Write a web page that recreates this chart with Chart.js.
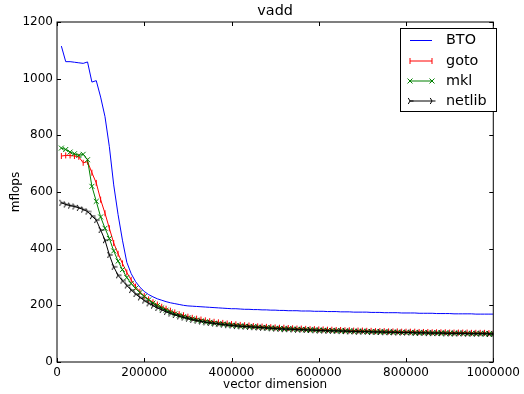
<!DOCTYPE html>
<html>
<head>
<meta charset="utf-8">
<title>vadd</title>
<script src="https://cdn.jsdelivr.net/npm/chart.js@4.4.0/dist/chart.umd.min.js"></script>
<style>
    html, body { margin: 0; padding: 0; background: #fff; }
    #wrap { width: 524px; height: 394px; }
</style>
</head>
<body>
<div id="wrap"><canvas id="vaddChart" width="524" height="394"></canvas></div>
<script>
// Vector dimensions (x values)
const dims = [
    10000, 20000, 30000, 40000, 50000, 60000, 70000, 80000, 90000, 100000,
    110000, 120000, 130000, 140000, 150000, 160000, 170000, 180000, 190000, 200000,
    210000, 220000, 230000, 240000, 250000, 260000, 270000, 280000, 290000, 300000,
    310000, 320000, 330000, 340000, 350000, 360000, 370000, 380000, 390000, 400000,
    410000, 420000, 430000, 440000, 450000, 460000, 470000, 480000, 490000, 500000,
    510000, 520000, 530000, 540000, 550000, 560000, 570000, 580000, 590000, 600000,
    610000, 620000, 630000, 640000, 650000, 660000, 670000, 680000, 690000, 700000,
    710000, 720000, 730000, 740000, 750000, 760000, 770000, 780000, 790000, 800000,
    810000, 820000, 830000, 840000, 850000, 860000, 870000, 880000, 890000, 900000,
    910000, 920000, 930000, 940000, 950000, 960000, 970000, 980000, 990000, 1000000
];

// mflops per library
const bto = [
    1115, 1060, 1060, 1058, 1056, 1054, 1059, 988, 993, 935,
    866, 760, 625, 520, 430, 352, 312, 284, 264, 249,
    238, 230, 223, 218, 213, 209, 206, 203, 200, 198,
    197, 196, 195, 194, 193, 192, 191, 190, 189, 188,
    188, 187, 186, 186, 185, 185, 184, 184, 183, 183,
    182, 182, 181, 181, 181, 180, 180, 180, 179, 179,
    179, 178, 178, 178, 177, 177, 177, 176, 176, 176,
    176, 175, 175, 175, 174, 174, 174, 174, 173, 173,
    173, 173, 172, 172, 172, 172, 171, 171, 171, 171,
    170, 170, 170, 170, 170, 169, 169, 169, 169, 169
];
const gotoVals = [
    727, 729, 729, 727, 724, 703, 707, 668, 632, 573,
    525, 472, 420, 382, 348, 316, 290, 266, 248, 233,
    221, 211, 203, 195, 188, 181, 175, 169, 165, 160,
    156, 153, 150, 147, 144, 142, 140, 138, 136, 134,
    133, 131, 130, 129, 127, 126, 125, 124, 123, 122,
    121, 121, 120, 119, 118, 118, 117, 116, 116, 115,
    115, 114, 114, 113, 113, 112, 112, 111, 111, 111,
    110, 110, 109, 109, 109, 108, 108, 108, 107, 107,
    107, 107, 106, 106, 106, 105, 105, 105, 105, 104,
    104, 104, 104, 104, 103, 103, 103, 103, 102, 102
];
const mkl = [
    755, 750, 741, 735, 729, 733, 714, 620, 567, 512,
    472, 436, 392, 356, 326, 298, 277, 260, 245, 231,
    219, 208, 199, 191, 183, 176, 170, 165, 160, 156,
    152, 148, 145, 142, 140, 137, 135, 134, 132, 130,
    129, 127, 126, 125, 124, 123, 122, 121, 120, 119,
    118, 117, 117, 116, 115, 115, 114, 113, 113, 112,
    112, 111, 111, 110, 110, 109, 109, 108, 108, 108,
    107, 107, 106, 106, 106, 105, 105, 105, 104, 104,
    104, 103, 103, 103, 103, 102, 102, 102, 102, 101,
    101, 101, 101, 100, 100, 100, 100, 100, 99, 99
];
const netlib = [
    562, 556, 552, 549, 544, 538, 531, 515, 501, 466,
    430, 378, 336, 306, 287, 270, 254, 240, 228, 217,
    207, 199, 191, 184, 177, 171, 166, 161, 157, 153,
    149, 146, 143, 140, 138, 136, 134, 132, 130, 129,
    127, 126, 125, 124, 123, 122, 121, 120, 119, 118,
    117, 116, 116, 115, 114, 114, 113, 113, 112, 111,
    111, 110, 110, 110, 109, 109, 108, 108, 107, 107,
    107, 106, 106, 106, 105, 105, 105, 104, 104, 104,
    104, 103, 103, 103, 102, 102, 102, 102, 101, 101,
    101, 101, 101, 100, 100, 100, 100, 100, 99, 99
];

// Axis ticks
const xTicks = [0, 200000, 400000, 600000, 800000, 1000000];
const yTicks = [0, 200, 400, 600, 800, 1000, 1200];

const FONT = "'DejaVu Sans', 'Liberation Sans', sans-serif";

/**
 * Build a small "tri_right" marker image (three spokes, one pointing right)
 */
function makeTriRight(size, color) {
    const c = document.createElement('canvas');
    c.width = size;
    c.height = size;
    const g = c.getContext('2d');
    const m = size / 2;
    const r = size / 2 - 0.5;
    g.strokeStyle = color;
    g.lineWidth = 1;
    g.beginPath();
    [0, 120, 240].forEach(a => {
        const rad = a * Math.PI / 180;
        g.moveTo(m, m);
        g.lineTo(m + r * Math.cos(rad), m + r * Math.sin(rad));
    });
    g.stroke();
    return c;
}

const triRight = makeTriRight(8, '#000000');

const toPoints = vals => vals.map((v, i) => ({ x: dims[i], y: v }));

// Series definitions (also used for the legend)
const series = [
    { label: 'BTO', data: bto, color: '#0000ff', style: false, radius: 0, rotation: 0 },
    { label: 'goto', data: gotoVals, color: '#ff0000', style: 'line', radius: 3, rotation: 90 },
    { label: 'mkl', data: mkl, color: '#008000', style: 'crossRot', radius: 3.5, rotation: 0 },
    { label: 'netlib', data: netlib, color: '#000000', style: triRight, radius: 4, rotation: 0 }
];

// Frame, inward ticks, title and legend drawn on top of the plot
const decorPlugin = {
    id: 'decor',
    afterDraw(chart) {
        const { ctx, chartArea: a, scales: { x, y } } = chart;
        ctx.save();
        ctx.strokeStyle = '#000';
        ctx.lineWidth = 1;

        // Inward tick marks on all four sides
        ctx.beginPath();
        xTicks.forEach(v => {
            const px = Math.round(x.getPixelForValue(v)) + 0.5;
            ctx.moveTo(px, a.bottom); ctx.lineTo(px, a.bottom - 4);
            ctx.moveTo(px, a.top); ctx.lineTo(px, a.top + 4);
        });
        yTicks.forEach(v => {
            const py = Math.round(y.getPixelForValue(v)) + 0.5;
            ctx.moveTo(a.left, py); ctx.lineTo(a.left + 4, py);
            ctx.moveTo(a.right, py); ctx.lineTo(a.right - 4, py);
        });
        ctx.stroke();

        // Axes frame
        ctx.strokeRect(a.left, a.top, a.right - a.left, a.bottom - a.top);

        // Title
        ctx.fillStyle = '#000';
        ctx.font = '14.4px ' + FONT;
        ctx.textAlign = 'center';
        ctx.textBaseline = 'alphabetic';
        ctx.fillText('vadd', (a.left + a.right) / 2, 15);

        // Legend box
        const bx = 400.5, by = 28.5, bw = 96, bh = 83;
        ctx.fillStyle = '#fff';
        ctx.fillRect(bx, by, bw, bh);
        ctx.strokeRect(bx, by, bw, bh);

        const rows = [40.5, 61, 81, 101];
        ctx.font = '14.4px ' + FONT;
        ctx.textAlign = 'left';
        ctx.textBaseline = 'middle';
        series.forEach((s, i) => {
            const ry = rows[i];
            ctx.strokeStyle = s.color;
            ctx.lineWidth = 1;
            ctx.beginPath();
            ctx.moveTo(410, ry);
            ctx.lineTo(432, ry);
            ctx.stroke();
            if (s.style) {
                [410, 432].forEach(px => {
                    Chart.helpers.drawPoint(ctx, {
                        pointStyle: s.style,
                        rotation: s.rotation,
                        radius: s.radius,
                        borderWidth: 1
                    }, px, ry);
                });
            }
            ctx.fillStyle = '#000';
            ctx.fillText(s.label, 446, ry);
        });
        ctx.restore();
    }
};

const datasets = series.map((s, i) => ({
    label: s.label,
    data: toPoints(s.data),
    borderColor: s.color,
    backgroundColor: s.color,
    borderWidth: 1,
    pointStyle: s.style,
    pointRadius: s.radius,
    pointRotation: s.rotation,
    pointBorderColor: s.color,
    pointBorderWidth: 1,
    pointBackgroundColor: 'rgba(0,0,0,0)',
    tension: 0,
    fill: false,
    order: series.length - 1 - i
}));

const tickFont = { family: FONT, size: 12 };

new Chart(document.getElementById('vaddChart'), {
    type: 'line',
    data: { datasets: datasets },
    plugins: [decorPlugin],
    options: {
        responsive: false,
        devicePixelRatio: 1,
        animation: false,
        events: [],
        layout: { padding: { left: 0, right: 27, top: 22, bottom: 0 } },
        plugins: {
            legend: { display: false },
            tooltip: { enabled: false },
            title: { display: false }
        },
        scales: {
            x: {
                type: 'linear',
                min: 0,
                max: 1000000,
                afterBuildTicks: scale => { scale.ticks = xTicks.map(v => ({ value: v })); },
                afterFit: scale => { scale.height = 32; },
                ticks: {
                    color: '#000',
                    font: tickFont,
                    padding: 4,
                    maxRotation: 0,
                    autoSkip: false,
                    callback: v => String(v)
                },
                grid: { display: false, drawTicks: false },
                border: { display: false },
                title: {
                    display: true,
                    text: 'vector dimension',
                    color: '#000',
                    font: tickFont,
                    padding: { top: 0, bottom: 2 }
                }
            },
            y: {
                type: 'linear',
                min: 0,
                max: 1200,
                afterBuildTicks: scale => { scale.ticks = yTicks.map(v => ({ value: v })); },
                afterFit: scale => { scale.width = 57; },
                ticks: {
                    color: '#000',
                    font: tickFont,
                    padding: 4,
                    callback: v => String(v)
                },
                grid: { display: false, drawTicks: false },
                border: { display: false },
                title: {
                    display: true,
                    text: 'mflops',
                    color: '#000',
                    font: tickFont,
                    padding: { top: 9, bottom: 0 }
                }
            }
        }
    }
});
</script>
</body>
</html>
